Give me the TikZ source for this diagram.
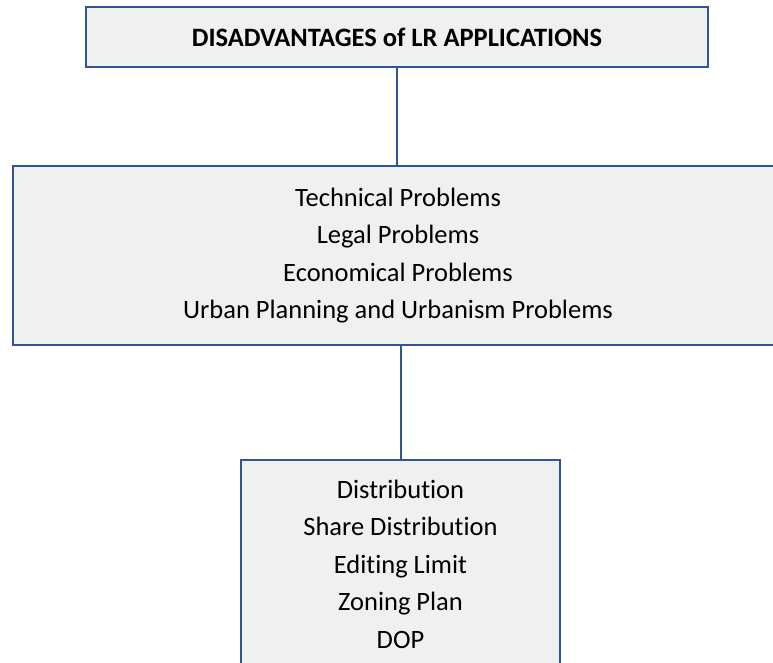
\documentclass[tikz,border=0pt]{standalone}
\usepackage{fontspec}
\setmainfont[Ligatures=NoCommon]{Carlito}
\usepackage{tikz}
\usetikzlibrary{positioning}
\definecolor{boxline}{HTML}{2F5597}
\definecolor{boxfill}{HTML}{F0F0F0}
\tikzset{>=stealth}
\tikzset{probbox/.style={draw=boxline, line width=2.4pt, fill=boxfill, align=center, inner sep=0pt,
        font=\fontsize{26.5}{37.5}\selectfont},
        link/.style={draw=boxline, line width=2pt}}

\begin{document}
\begin{tikzpicture}[x=1pt, y=-1pt]
        \useasboundingbox (0,0) rectangle (773,663);
        \node [probbox, minimum width=622pt, minimum height=60pt] (title) at (397,37)
                {\textbf{DISADVANTAGES of LR APPLICATIONS}};
        \node [probbox, minimum width=770pt, minimum height=179pt] (problems) at (398,255.5)
                {Technical Problems\\ Legal Problems\\ Economical Problems\\ Urban Planning and Urbanism Problems};
        \node [probbox, minimum width=319pt, minimum height=208pt] (details) at (400.5,564)
                {Distribution\\ Share Distribution\\ Editing Limit\\ Zoning Plan\\ DOP};
        
        \draw [link] (title.south) -- (title.south |- problems.north);
        \draw [link] (problems.south -| details.north) -- (details.north);
\end{tikzpicture}
\end{document}
